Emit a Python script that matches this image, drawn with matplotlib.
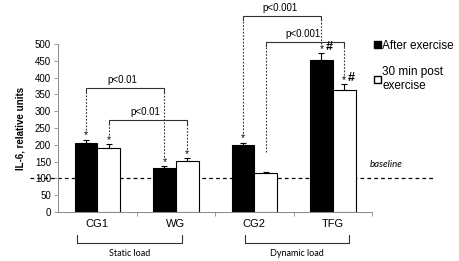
import numpy as np
import matplotlib.pyplot as plt
from matplotlib.patches import Patch

plt.rcParams['font.family'] = ['Liberation Sans', 'DejaVu Sans']

groups = ["CG1", "WG", "CG2", "TFG"]
after_ex = [205, 130, 198, 452]
after_err = [10, 6, 8, 20]
post_30 = [190, 152, 115, 362]
post_err = [12, 8, 5, 18]
after_marks = ["*", "*", "*", "*#"]
post_marks = ["*", "*", "", "*#"]
load_labels = ["Static load", "Dynamic load"]
baseline_val = 100

# brackets: (bar i, series i, bar j, series j, height, label)
brackets = [
    (0, 0, 1, 0, 369, "p<0.01"),
    (0, 1, 1, 1, 274, "p<0.01"),
    (2, 0, 3, 0, 583, "p<0.001"),
    (2, 1, 3, 1, 506, "p<0.001"),
]

W = 0.29
x = np.arange(len(groups))

fig = plt.figure(figsize=(4.59, 2.61), dpi=100)
ax = fig.add_axes([0.1264, 0.1877, 0.6841, 0.6437])

ax.bar(x - W / 2, after_ex, W, color="black", edgecolor="black", lw=0.8, zorder=2)
ax.bar(x + W / 2, post_30, W, color="white", edgecolor="black", lw=0.8, zorder=2)
ax.errorbar(x - W / 2, after_ex, yerr=[np.zeros(4), after_err], fmt="none",
            ecolor="black", elinewidth=0.8, capsize=2.5, capthick=0.8, zorder=3)
ax.errorbar(x + W / 2, post_30, yerr=[np.zeros(4), post_err], fmt="none",
            ecolor="black", elinewidth=0.8, capsize=2.5, capthick=0.8, zorder=3)

vals = [after_ex, post_30]
errs = [after_err, post_err]
marks = [after_marks, post_marks]
for s in range(2):
    for i in range(len(groups)):
        m = marks[s][i]
        if not m:
            continue
        xc = x[i] + (s - 0.5) * W
        top = vals[s][i] + errs[s][i]
        ax.text(xc, top - 2, "*", ha="center", va="bottom", fontsize=7.5)
        if "#" in m:
            ax.text(xc + 0.05, top + 1, "#", ha="left", va="bottom",
                    fontsize=9, fontweight="bold")

for gi, si, gj, sj, h, lab in brackets:
    x1 = x[gi] + (si - 0.5) * W
    x2 = x[gj] + (sj - 0.5) * W
    y1 = vals[si][gi] + errs[si][gi] + 28
    y2 = vals[sj][gj] + errs[sj][gj] + 28
    if gi == 2 and si == 1:
        y1 = 180
    ax.plot([x1, x1, x2, x2], [h - 12, h, h, h - 12], color="#333333", lw=0.8,
            clip_on=False)
    ax.plot([x1, x1], [y1, h - 12], color="#333333", lw=0.8, ls=(0, (1.5, 1.5)),
            clip_on=False)
    ax.plot([x2, x2], [y2, h - 12], color="#333333", lw=0.8, ls=(0, (1.5, 1.5)),
            clip_on=False)
    ax.text((x1 + x2) / 2 - 0.03, h + 8, lab, ha="center", va="bottom", fontsize=7)

ax.plot([-0.857, 4.28], [baseline_val, baseline_val], color="black", lw=0.9,
        ls=(0, (3, 2.5)), clip_on=False, zorder=1)
ax.text(3.47, 140, "baseline", fontsize=7, style="italic", family="Lato",
        ha="left", va="center")

ax.set_xlim(-0.5, 3.5)
ax.set_ylim(0, 500)
ax.set_yticks(range(0, 501, 50))
ax.tick_params(axis="y", labelsize=7, length=3, width=0.6, color="#888888", pad=2)
ax.set_xticks([0.5, 1.5, 2.5, 3.5])
ax.set_xticklabels([])
ax.tick_params(axis="x", length=3, width=0.6, color="#888888")
for i, g in enumerate(groups):
    ax.text(x[i], -0.07, g, transform=ax.get_xaxis_transform(), ha="center",
            va="center", fontsize=8)
for sp in ["top", "right"]:
    ax.spines[sp].set_visible(False)
for sp in ["left", "bottom"]:
    ax.spines[sp].set_color("#888888")
    ax.spines[sp].set_linewidth(0.7)

ax.set_ylabel("IL-6, relative units", fontsize=7, fontweight="bold", labelpad=7)

trans = ax.get_xaxis_transform()
for (xa, xb), lab in zip([(-0.258, 1.08), (1.88, 3.207)], load_labels):
    ax.plot([xa, xa, xb, xb], [-0.137, -0.185, -0.185, -0.137], color="#333333",
            lw=0.8, transform=trans, clip_on=False)
    ax.text((xa + xb) / 2, -0.245, lab, transform=trans, ha="center", va="center",
            fontsize=6.5, family="Lato")

handles = [Patch(facecolor="black", edgecolor="black"),
           Patch(facecolor="white", edgecolor="black")]
fig.legend(handles, ["After exercise", "30 min post\nexercise"], loc="upper left",
           bbox_to_anchor=(0.805, 0.865), frameon=False, fontsize=8.5,
           handlelength=0.55, handleheight=0.55, handletextpad=0.15,
           labelspacing=1.2, borderaxespad=0)

fig.savefig("out.png", dpi=100)
